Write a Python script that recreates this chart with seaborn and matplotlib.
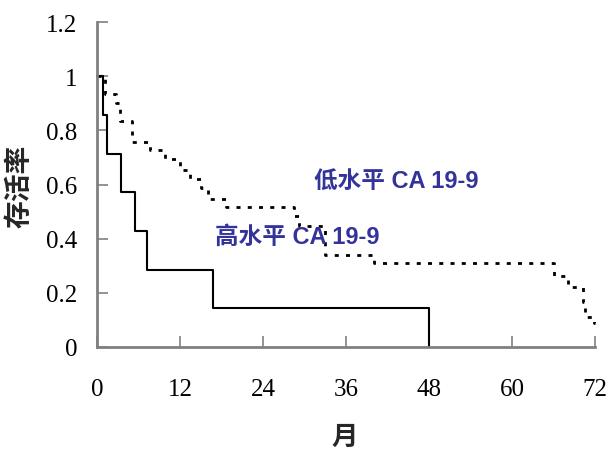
import matplotlib
matplotlib.use("Agg")
import matplotlib.pyplot as plt
import seaborn as sns
import pandas as pd

# High CA 19-9 group (solid)
high_t = [0, 0.9, 1.4, 3.4, 5.5, 7.2, 16.7, 48.0]
high_s = [1.0, 0.857, 0.714, 0.571, 0.429, 0.286, 0.143, 0.0]

# Low CA 19-9 group (dotted)
low_t = [0, 1.2, 2.7, 3.3, 5.1, 7.6, 9.8, 12.0, 13.4, 15.1, 16.0, 18.7,
         28.5, 29.2, 33.0, 40.0, 66.0, 68.1, 70.2, 70.6, 71.8, 72.0]
low_s = [1.0, 0.933, 0.9, 0.833, 0.757, 0.727, 0.693, 0.653, 0.62, 0.587,
         0.547, 0.517, 0.485, 0.445, 0.34, 0.31, 0.263, 0.22, 0.165, 0.11,
         0.09, 0.09]

x_ticks = [0, 12, 24, 36, 48, 60, 72]
y_ticks = [0, 0.2, 0.4, 0.6, 0.8, 1.0, 1.2]
y_tick_labels = ["0", "0.2", "0.4", "0.6", "0.8", "1", "1.2"]

label_low = "低水平 CA 19-9"
label_high = "高水平 CA 19-9"
x_title = "月"
y_title = "存活率"

sns.set_style("white")
plt.rcParams['font.family'] = ['Noto Sans CJK SC', 'DejaVu Sans']

fig = plt.figure(figsize=(6.10, 4.52), dpi=100)
ax = fig.add_axes([97/610, 1 - 348/452, (595-97)/610, (348-23)/452])

df_high = pd.DataFrame({"t": high_t, "s": high_s})
df_low = pd.DataFrame({"t": low_t, "s": low_s})

sns.lineplot(data=df_high, x="t", y="s", ax=ax, drawstyle="steps-post",
             color="black", linewidth=1.5, estimator=None, clip_on=False)
sns.lineplot(data=df_low, x="t", y="s", ax=ax, drawstyle="steps-post",
             color="black", linewidth=2.0, linestyle=(0, (1.45, 2.6)),
             estimator=None, clip_on=False)

ax.set_xlim(0, 72)
ax.set_ylim(0, 1.2)
ax.set_xticks(x_ticks)
ax.set_xticklabels([str(v) for v in x_ticks])
ax.set_yticks(y_ticks)
ax.set_yticklabels(y_tick_labels)

for lab in ax.get_xticklabels() + ax.get_yticklabels():
    lab.set_fontfamily("Liberation Serif")
    lab.set_fontsize(18)
    lab.set_color("black")

ax.tick_params(axis="x", direction="in", length=8, width=1.2, color="#808080",
               pad=22, bottom=True)
ax.tick_params(axis="y", direction="in", length=8, width=1.2, color="#808080",
               pad=14, left=True)

sns.despine(ax=ax)
for side in ["left", "bottom"]:
    ax.spines[side].set_color("#808080")
    ax.spines[side].set_linewidth(2)

ax.set_xlabel("")
ax.set_ylabel("")
fig.text(345/610, 1 - 437/452, x_title, ha="center", va="center",
         fontsize=19, fontweight="bold")
fig.text(20/610, 1 - 186/452, y_title, ha="center", va="center",
         fontsize=20, fontweight="bold", rotation=90)

lab_family = ["Liberation Sans", "Noto Sans CJK SC"]
ax.text(43.3, 0.615, label_low, ha="center", va="center", fontsize=17,
        fontweight="bold", color="#333399", family=lab_family)
ax.text(28.9, 0.409, label_high, ha="center", va="center", fontsize=17,
        fontweight="bold", color="#333399", family=lab_family)

fig.savefig("out.png", dpi=100)
